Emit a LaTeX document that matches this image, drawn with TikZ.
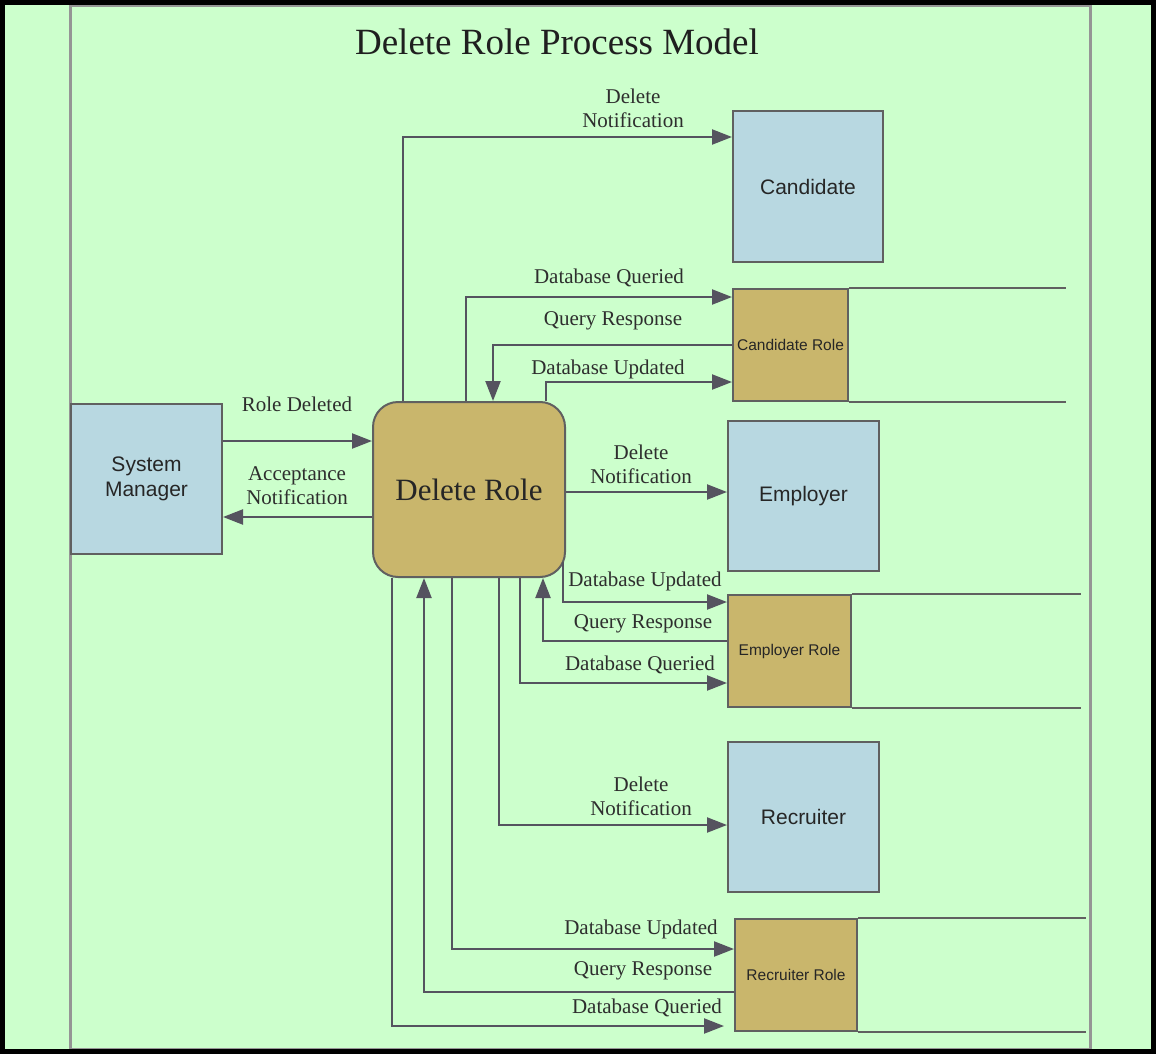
\documentclass[tikz,border=0pt]{standalone}
\usepackage{fontspec}
\setmainfont{Liberation Serif}
\setsansfont{Liberation Sans}
\usetikzlibrary{arrows.meta}
\definecolor{bg}{HTML}{CCFFCC}
\definecolor{extbox}{HTML}{B8D8E1}
\definecolor{tanbox}{HTML}{C9B66C}
\definecolor{boxline}{HTML}{606060}
\definecolor{conncol}{HTML}{55535F}
\definecolor{txt}{HTML}{2E2E2E}
\definecolor{pool}{HTML}{959595}
\begin{document}
\begin{tikzpicture}[x=1pt,y=-1pt,
  extent/.style={draw=boxline, line width=2pt, fill=extbox, inner sep=0pt,
    font=\sffamily\fontsize{21}{25}\selectfont, text=black!85, align=center},
  rolebox/.style={draw=boxline, line width=2pt, fill=tanbox, inner sep=0pt,
    font=\sffamily\fontsize{15.5}{18}\selectfont, text=black!85},
  procbox/.style={draw=boxline, line width=2pt, fill=tanbox, inner sep=0pt,
    rounded corners=25pt, font=\fontsize{31}{36}\selectfont, text=black!85},
  storeline/.style={draw=boxline, line width=2pt},
  conn/.style={draw=conncol, line width=2.2pt, -{Triangle[length=20pt,width=15pt]}},
  lbl/.style={font=\fontsize{21}{24}\selectfont, text=txt, align=center, inner sep=0pt, yshift=-2pt}
]
\useasboundingbox (0,0) rectangle (1156,1054);
\fill[bg] (0,0) rectangle (1156,1054);
\draw[pool, line width=3pt] (70,6) rectangle (1090,1049);
\draw[black, line width=5pt] (2.5,2.5) rectangle (1153.5,1051.5);

\node[font=\fontsize{37}{40}\selectfont, text=black!88, inner sep=0pt] (title) at (557,42) {Delete Role Process Model};

% nodes
\node[extent, minimum width=150pt, minimum height=151pt] (Cand) at (808,186.5) {Candidate};
\node[rolebox, minimum width=115pt, minimum height=112pt] (CR) at (790.5,345) {Candidate Role};
\node[procbox, minimum width=192pt, minimum height=175pt] (DR) at (469,489.5) {Delete Role};
\node[extent, minimum width=151pt, minimum height=150pt] (SM) at (146.5,479) {System\\Manager};
\node[extent, minimum width=151pt, minimum height=150pt] (Emp) at (803.5,496) {Employer};
\node[rolebox, minimum width=123pt, minimum height=112pt] (ER) at (789.5,651) {Employer Role};
\node[extent, minimum width=151pt, minimum height=150pt] (Rec) at (803.5,817) {Recruiter};
\node[rolebox, minimum width=122pt, minimum height=112pt] (RR) at (796,975) {Recruiter Role};

% data store open lines
\draw[storeline] (CR.north east) -- ++(217,0);
\draw[storeline] (CR.south east) -- ++(217,0);
\draw[storeline] (ER.north east) -- ++(229,0);
\draw[storeline] (ER.south east) -- ++(229,0);
\draw[storeline] (RR.north east) -- ++(228,0);
\draw[storeline] (RR.south east) -- ++(228,0);

% connectors
\draw[conn] ([xshift=-66pt]DR.north) |- ([yshift=49.5pt]Cand.west);
\draw[conn] ([xshift=-3pt]DR.north) |- ([yshift=48pt]CR.west);
\draw[conn] (CR.west) -| ([xshift=24pt]DR.north);
\draw[conn] ([xshift=77pt]DR.north) |- ([yshift=-37pt]CR.west);
\draw[conn] ([yshift=38pt]SM.east) -- ([yshift=48.5pt]DR.west);
\draw[conn] ([yshift=-27.5pt]DR.west) -- ([yshift=-38pt]SM.east);
\draw[conn] ([yshift=-2.5pt]DR.east) -- ([yshift=4pt]Emp.west);
\draw[conn] ([xshift=94pt,yshift=16pt]DR.south) |- ([yshift=49pt]ER.west);
\draw[conn] ([yshift=10pt]ER.west) -| ([xshift=74pt]DR.south);
\draw[conn] ([xshift=51pt]DR.south) |- ([yshift=-32pt]ER.west);
\draw[conn] ([xshift=30pt]DR.south) |- ([yshift=-8pt]Rec.west);
\draw[conn] ([xshift=-17pt]DR.south) |- ([yshift=26pt]RR.west);
\draw[conn] ([yshift=-17pt]RR.west) -| ([xshift=-45pt]DR.south);
\draw[conn, shorten >=10pt] ([xshift=-77pt]DR.south) |- ([yshift=-51pt]RR.west);

% labels
\node[lbl] (l1) at (633,106) {Delete\\Notification};
\node[lbl] (l2) at (609,276) {Database Queried};
\node[lbl] (l3) at (613,319) {Query Response};
\node[lbl] (l4) at (608,367) {Database Updated};
\node[lbl] (l5) at (297,402) {Role Deleted};
\node[lbl] (l6) at (297,484) {Acceptance\\Notification};
\node[lbl] (l7) at (641,462) {Delete\\Notification};
\node[lbl] (l8) at (645,579) {Database Updated};
\node[lbl] (l9) at (643,622) {Query Response};
\node[lbl] (l10) at (640,663) {Database Queried};
\node[lbl] (l11) at (641,794) {Delete\\Notification};
\node[lbl] (l12) at (641,927) {Database Updated};
\node[lbl] (l13) at (643,969) {Query Response};
\node[lbl] (l14) at (647,1006) {Database Queried};
\end{tikzpicture}
\end{document}
